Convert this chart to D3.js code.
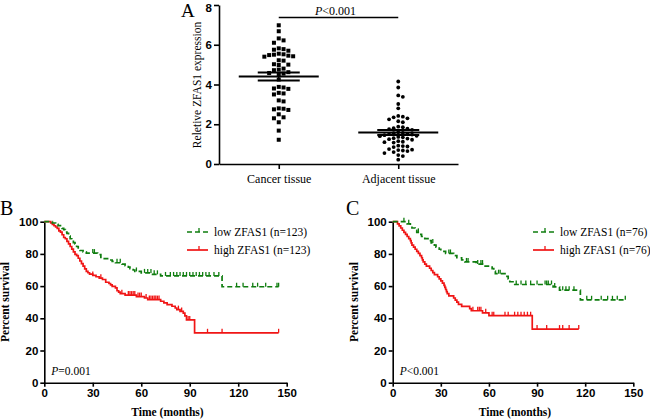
<!DOCTYPE html>
<html><head><meta charset="utf-8">
<script src="https://cdn.jsdelivr.net/npm/d3@7"></script>
<style>
html,body{margin:0;padding:0;background:#fff;}
svg{display:block;}
</style></head>
<body>
<svg id="chart" width="650" height="419"></svg>
<script>
// ---------- Panel A data ----------
const categoriesA = ["Cancer tissue", "Adjacent tissue"];
const cancerValues = [6.98, 6.68, 6.32, 6.22, 6.1, 5.78, 5.82, 5.75, 5.7, 5.55, 5.5, 5.45, 5.42, 5.4, 5.48, 5.52,
  5.2, 5.22, 5.0, 5.02, 4.98, 4.8, 4.75, 4.72, 4.62, 4.58, 4.55, 4.5, 4.25, 3.85, 3.8, 3.78, 3.88, 3.55, 3.5, 3.58,
  3.2, 3.15, 2.78, 2.75, 2.72, 2.8, 2.5, 2.35, 2.3, 2.1, 1.68, 1.22];
const adjacentValues = [4.15, 3.85, 3.45, 3.38, 3.02, 2.8, 2.42, 2.38, 2.35, 2.3, 2.25, 2.15, 2.1, 1.88, 1.85, 1.8,
  1.78, 1.75, 1.72, 1.6, 1.57, 1.55, 1.52, 1.5, 1.48, 1.45, 1.42, 1.4, 1.36, 1.34, 1.3, 1.28, 1.25, 1.22, 1.15, 1.12,
  1.1, 1.08, 0.92, 0.9, 0.88, 0.85, 0.75, 0.72, 0.7, 0.68, 0.65, 0.6, 0.55, 0.45, 0.4, 0.22];
const yTicksA = [0, 2, 4, 6, 8];

// ---------- Kaplan-Meier data: [time (months), percent survival after event] ----------
const lowB = [[0,100],[5,99.2],[7,98.4],[8.5,97.6],[10,96.7],[11,95.9],[12,95.1],[13,93.5],[14,92.7],[15,91.1],[16,89.4],
  [17,88.6],[18,87],[19,86.2],[20,84.6],[21,83.7],[22,82.1],[24,81.3],[26,80.5],[33,79.6],[35,77.9],[36,77.1],[40,76.2],
  [42,75.4],[44,74.5],[48,73.6],[50,72.7],[52,71.8],[53,70.9],[55,70],[56,69.1],[60,68.2],[67,67.3],[72,66.3],[110,59.6]];
const lowBCensor = [30,31,45,47,57,62,64,66,68,70,75,78,80,82,84,86,88,90,92,94,96,98,100,102,105,108,119,123,129,132,137,144,145];
const highB = [[0,100],[4,99.2],[5,98.4],[6,97.5],[7,96.7],[8,95.9],[9,94.3],[10,93.5],[11,91.9],[12,90.2],[13,89.4],
  [14,87.8],[15,86.2],[16,84.6],[17,83],[18,81.3],[19,79.7],[20,78.9],[21,77.3],[22,75.6],[23,74],[24,72.4],[25,70.7],
  [26,69.1],[27,68.3],[28,67.5],[30,66.6],[32,65.8],[34,64.9],[36,64.1],[38,62.4],[40,61.6],[41,60.7],[42,59.8],[44,58.9],
  [45,57.1],[46,56.2],[47,55.3],[50,54.4],[57,53.5],[62,52.6],[64,51.6],[72,50.6],[74,49.6],[76,48.5],[79,47.5],[81,46.4],
  [82,45.4],[84,44.3],[86,43.2],[87,41.5],[88,39],[93,31]];
const highBCensor = [30,35,48,52,53,54,55,56,58,59,60,63,65,66,67,68,69,70,71,83,85,89,90,101,110,145];

const lowC = [[0,100],[9,98.7],[11,97.4],[12,96.1],[14,94.7],[15,93.4],[17,92.1],[18,90.8],[20,89.5],[22,88.2],[24,86.8],
  [26,85.5],[27,84.2],[29,82.9],[30,81.6],[33,80.3],[38,78.9],[40,77.6],[43,76.3],[45,75],[52,73.7],[57,72.4],[62,70.9],
  [63,69.3],[64,67.7],[70,66.1],[72,64.4],[73,62.7],[75,61],[100,59.5],[104,57.5],[117,51.5]];
const lowCCensor = [7,10,16,25,35,36,46,47,53,55,56,66,67,77,80,83,86,90,95,96,97,99,101,106,108,110,113,121,124,130,134,137,140,145];
const highC = [[0,100],[3,98.7],[4,97.4],[5,96.1],[6,94.7],[7,93.4],[8,92.1],[9,90.8],[10,89.5],[11,88.2],[11.5,86.8],
  [12,85.5],[13,84.2],[14,82.9],[15,81.6],[16,80.3],[17,78.9],[18,77.6],[18.5,76.3],[19,75],[20,73.7],[21,72.4],[23,71.1],
  [24,69.7],[25,68.4],[26,67.1],[28,65.8],[29,64.5],[30,63.2],[31,61.8],[32,60.5],[32.5,59.2],[33,57.9],[33.5,56.6],
  [34,55.3],[35,53.9],[38,52.6],[39,51.3],[40,50],[41,48.7],[43,47.4],[48,46],[49,44.7],[56,43.4],[60,41.6],[87,33.3]];
const highCCensor = [50,53,54,55,58,62,63,70,72,76,78,80,82,84,86,90,96,104,106,110,116];

const kmTicksX = [0, 30, 60, 90, 120, 150];
const kmTicksY = [0, 20, 40, 60, 80, 100];
const legendB = ["low ZFAS1 (n=123)", "high ZFAS1 (n=123)"];
const legendC = ["low ZFAS1 (n=76)", "high ZFAS1 (n=76)"];

// ---------- styles ----------
const GREEN = "#0f7d0f", RED = "#f01515";
const tickFont = "'Liberation Sans', Arial, sans-serif";
const serif = "'Liberation Serif', 'Times New Roman', serif";

const svg = d3.select("#chart");

function styleAxis(g, fs) {
  g.selectAll("path,line").attr("stroke", "#000").attr("stroke-width", 1.6);
  g.selectAll("text").attr("font-family", tickFont).attr("font-weight", "bold")
    .attr("font-size", fs).attr("fill", "#000");
}

// ---------- Panel A ----------
const yA = d3.scaleLinear().domain([0, 8]).range([164, 5]);
const xA = d3.scalePoint().domain(categoriesA).range([219, 458]).padding(0.5);

const gA = svg.append("g");
gA.append("g").attr("transform", "translate(219,0)")
  .call(d3.axisLeft(yA).tickValues(yTicksA).tickSize(5).tickSizeOuter(0).tickPadding(2))
  .call(g => styleAxis(g, 11.5))
  .call(g => g.selectAll(".tick text").filter(d => d === 8).attr("dy", "0.55em"));
gA.append("g").attr("transform", "translate(0,164)")
  .call(d3.axisBottom(xA).tickSize(5).tickSizeOuter(0).tickPadding(5))
  .call(g => styleAxis(g, 12))
  .call(g => g.selectAll("text").attr("font-family", serif).attr("font-weight", "normal").attr("font-size", 12));

function swarm(values, cx, step, size) {
  const sorted = values.slice().sort((a, b) => b - a);
  const placed = [];
  for (const v of sorted) {
    const py = yA(v);
    for (let k = 0; k < 40; k++) {
      const off = (k === 0 ? 0 : (k % 2 ? 1 : -1) * Math.ceil(k / 2)) * step;
      const px = cx + off;
      if (!placed.some(p => Math.abs(p.x - px) < step * 0.95 && Math.abs(p.y - py) < size)) {
        placed.push({x: px, y: py, v});
        break;
      }
    }
  }
  return placed;
}

const cancerPts = swarm(cancerValues, xA(categoriesA[0]), 4.8, 4.4);
gA.selectAll("rect.pt").data(cancerPts).enter().append("rect")
  .attr("x", d => d.x - 2).attr("y", d => d.y - 2).attr("width", 4).attr("height", 4).attr("fill", "#000");

const adjPts = swarm(adjacentValues, xA(categoriesA[1]), 4.6, 4.0);
gA.selectAll("circle.pt").data(adjPts).enter().append("circle")
  .attr("cx", d => d.x).attr("cy", d => d.y).attr("r", 1.9).attr("fill", "#000");

function meanSem(vals) {
  const m = d3.mean(vals), sd = d3.deviation(vals);
  return [m, sd / Math.sqrt(vals.length)];
}
[[cancerValues, categoriesA[0]], [adjacentValues, categoriesA[1]]].forEach(([vals, cat]) => {
  const [m, se] = meanSem(vals);
  const cx = xA(cat);
  gA.append("line").attr("x1", cx - 40).attr("x2", cx + 40).attr("y1", yA(m)).attr("y2", yA(m))
    .attr("stroke", "#000").attr("stroke-width", 2);
  [m - se, m + se].forEach(v => gA.append("line").attr("x1", cx - 21).attr("x2", cx + 21)
    .attr("y1", yA(v)).attr("y2", yA(v)).attr("stroke", "#000").attr("stroke-width", 2));
  gA.append("line").attr("x1", cx).attr("x2", cx).attr("y1", yA(m + se)).attr("y2", yA(m - se))
    .attr("stroke", "#000").attr("stroke-width", 1.5);
});

// significance bar
gA.append("line").attr("x1", xA(categoriesA[0])).attr("x2", xA(categoriesA[1]))
  .attr("y1", 17.5).attr("y2", 17.5).attr("stroke", "#000").attr("stroke-width", 1.3);
const pA = gA.append("text").attr("x", (xA(categoriesA[0]) + xA(categoriesA[1])) / 2 - 3).attr("y", 15)
  .attr("text-anchor", "middle").attr("font-family", serif).attr("font-size", 12);
pA.append("tspan").attr("font-style", "italic").text("P");
pA.append("tspan").text("<0.001");

gA.append("text").attr("transform", "translate(197,85) rotate(-90)").attr("text-anchor", "middle")
  .attr("dy", "0.35em").attr("font-family", serif).attr("font-size", 11.5).text("Reletive ZFAS1 expression");
svg.append("text").attr("x", 181).attr("y", 17).attr("font-family", serif).attr("font-size", 19).text("A");

// ---------- KM panels ----------
function survAt(steps, t) {
  let s = 100;
  for (const [tt, ss] of steps) if (tt <= t) s = ss;
  return s;
}

function kmPanel(opts) {
  const {x0, x1, label, labelX, low, lowCens, high, highCens, legend, pText, legX} = opts;
  const x = d3.scaleLinear().domain([0, 150]).range([x0, x1]);
  const y = d3.scaleLinear().domain([0, 100]).range([382.7, 221.7]);
  const g = svg.append("g");

  g.append("g").attr("transform", `translate(${x0},0)`)
    .call(d3.axisLeft(y).tickValues(kmTicksY).tickSize(4).tickSizeOuter(0).tickPadding(2))
    .call(a => styleAxis(a, 11.5));
  g.append("g").attr("transform", "translate(0,382.7)")
    .call(d3.axisBottom(x).tickValues(kmTicksX).tickSize(4).tickSizeOuter(0).tickPadding(2))
    .call(a => styleAxis(a, 11.5));

  const line = d3.line().x(d => x(d[0])).y(d => y(d[1])).curve(d3.curveStepAfter);
  function drawCurve(steps, cens, color, dash) {
    const end = d3.max(cens.concat(steps.map(d => d[0])));
    const pts = steps.concat([[end, steps[steps.length - 1][1]]]);
    g.append("path").attr("d", line(pts)).attr("fill", "none").attr("stroke", color)
      .attr("stroke-width", 1.7).attr("stroke-dasharray", dash ? "5,3" : null);
    g.selectAll(null).data(cens).enter().append("line")
      .attr("x1", d => x(d)).attr("x2", d => x(d))
      .attr("y1", d => y(survAt(steps, d))).attr("y2", d => y(survAt(steps, d)) - 4)
      .attr("stroke", color).attr("stroke-width", 1.3);
  }
  drawCurve(high, highCens, RED, false);
  drawCurve(low, lowCens, GREEN, true);

  // legend
  [[GREEN, true, 232, legend[0]], [RED, false, 250, legend[1]]].forEach(([c, dash, ly, txt]) => {
    g.append("line").attr("x1", legX).attr("x2", legX + 21).attr("y1", ly).attr("y2", ly)
      .attr("stroke", c).attr("stroke-width", 1.7).attr("stroke-dasharray", dash ? "5,3" : null);
    g.append("line").attr("x1", legX + 12).attr("x2", legX + 12).attr("y1", ly).attr("y2", ly - 4)
      .attr("stroke", c).attr("stroke-width", 1.3);
    g.append("text").attr("x", legX + 27).attr("y", ly + 4).attr("font-family", serif)
      .attr("font-size", 11.5).text(txt);
  });

  const pt = g.append("text").attr("x", x0 + 7).attr("y", 375).attr("font-family", serif).attr("font-size", 11.5);
  pt.append("tspan").attr("font-style", "italic").text("P");
  pt.append("tspan").text(pText);

  g.append("text").attr("x", (x0 + x1) / 2 + 2).attr("y", 416).attr("text-anchor", "middle")
    .attr("font-family", serif).attr("font-weight", "bold").attr("font-size", 11.5).text("Time (months)");
  g.append("text").attr("transform", `translate(${x0 - 35},302) rotate(-90)`).attr("text-anchor", "middle")
    .attr("font-family", serif).attr("font-weight", "bold").attr("font-size", 11.5).text("Percent survival");
  svg.append("text").attr("x", labelX).attr("y", 215).attr("font-family", serif).attr("font-size", 20).text(label);
}

kmPanel({x0: 44.3, x1: 286.7, label: "B", labelX: 0, low: lowB, lowCens: lowBCensor, high: highB,
  highCens: highBCensor, legend: legendB, pText: "=0.001", legX: 187});
kmPanel({x0: 392.7, x1: 633.3, label: "C", labelX: 346, low: lowC, lowCens: lowCCensor, high: highC,
  highCens: highCCensor, legend: legendC, pText: "<0.001", legX: 533});
</script>
</body></html>
